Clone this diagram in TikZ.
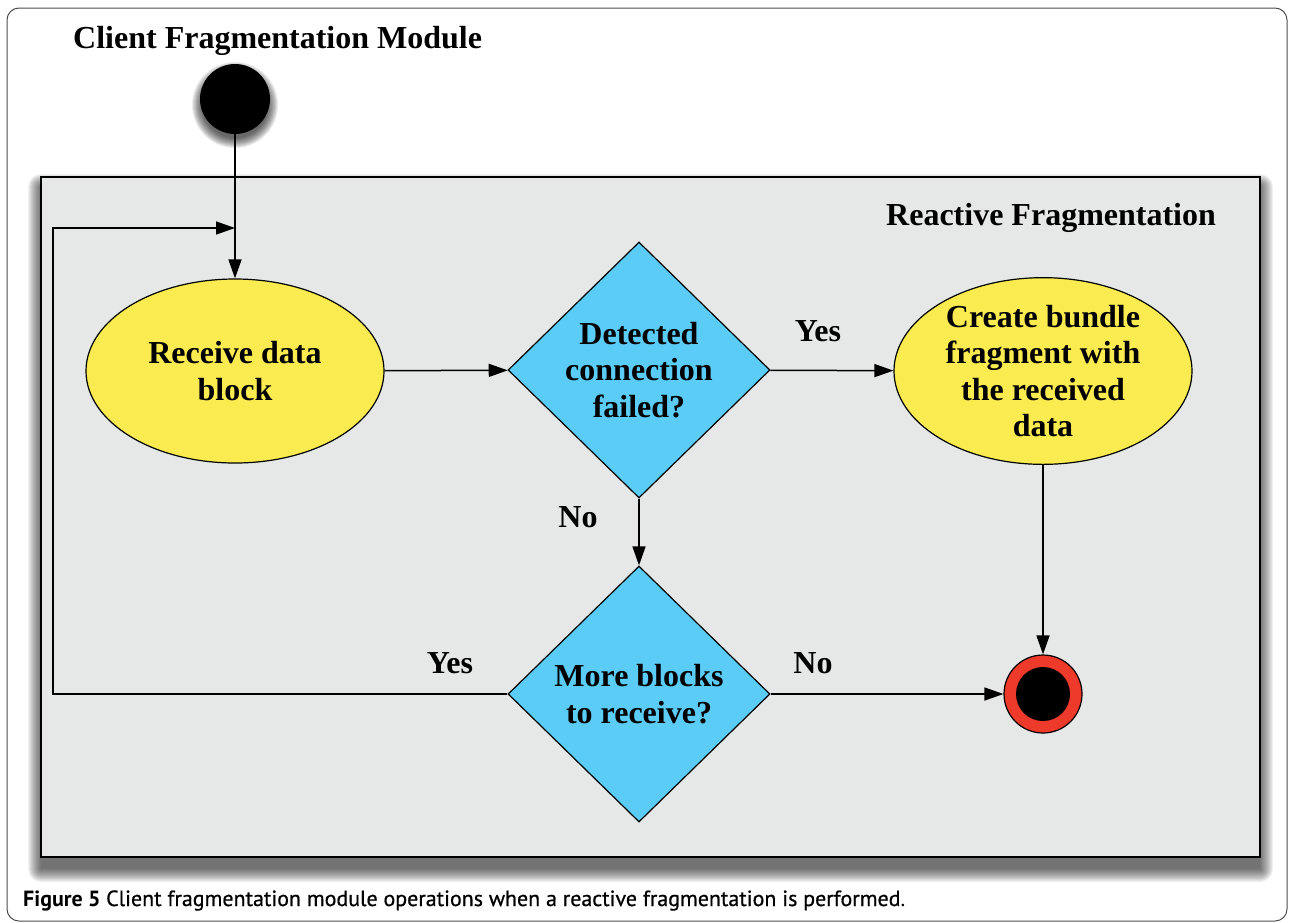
\documentclass[tikz,border=0pt]{standalone}
\usepackage{fontspec}
\setmainfont{Liberation Serif}
\newfontfamily\capfont{PT Sans}
\newfontfamily\capsemi[FakeBold=0.7]{PT Sans}
\usetikzlibrary{shapes.geometric,arrows.meta}
\definecolor{boxgray}{HTML}{E6E7E7}
\definecolor{yel}{HTML}{FAEB50}
\definecolor{sky}{HTML}{5BCCF6}
\definecolor{ringred}{HTML}{EE3A2B}
\begin{document}
\begin{tikzpicture}[x=1pt,y=-1pt,
  flow/.style={line width=1.5pt,-{Triangle[length=19pt,width=13pt]}},
  lbl/.style={font=\fontsize{32}{36.5}\selectfont\bfseries},
  ell/.style={ellipse,draw,line width=1.2pt,fill=yel,minimum width=298pt,minimum height=184pt,inner sep=0pt,align=center,lbl},
  dia/.style={diamond,draw,line width=1.2pt,fill=sky,minimum width=262pt,minimum height=256pt,inner sep=0pt,align=center,lbl}]
\useasboundingbox (0,0) rectangle (1292,922);
% outer frame
\draw[line width=1pt,draw=black!70,rounded corners=12pt] (7,8) rectangle (1287,921);
% shadow of inner box
\foreach \i in {0,...,13}{
  \fill[black,opacity=0.055,rounded corners=\i pt] ({41-\i},{187-\i}) rectangle ({1260+\i},{869+\i});
}
\fill[boxgray] (41,177) rectangle (1260,857);
\draw[line width=1.5pt] (41,177) rectangle (1260,857);
% start shadow
\foreach \i in {0,...,10}{
  \fill[black,opacity=0.08] (235,105) circle ({33+\i});
}
\node[circle,fill=black,minimum size=70pt,inner sep=0pt] (start) at (235,99) {};
% titles
\node[lbl,anchor=base west,inner sep=0pt] (title) at (73,48) {Client Fragmentation Module};
\node[lbl,anchor=base west,inner sep=0pt] (rtitle) at (886,225) {Reactive Fragmentation};
% nodes
\node[ell] (recv) at (235,371) {Receive data\\block};
\node[dia] (det) at (639,370) {Detected\\connection\\failed?};
\node[ell] (create) at (1043,371) {Create bundle\\fragment with\\the received\\data};
\node[dia] (more) at (639,694) {More blocks\\to receive?};
\node[circle,draw=black,line width=1.2pt,fill=ringred,minimum size=78pt,inner sep=0pt] (end) at (1043,694) {};
\node[circle,fill=black,minimum size=54pt,inner sep=0pt] (endin) at (1043,694) {};
\coordinate (loopend) at (235,228);
\coordinate (loopcorner) at (53,228);
% connectors
\draw[flow] (start) -- (recv);
\draw[flow] (recv) -- (det);
\draw[flow] (det) -- (create);
\draw[flow] (det) -- (more);
\draw[flow] (create) -- (end);
\draw[flow] (more) -- (end);
\draw[flow] (more.west) -| (loopcorner) -- (loopend);
% labels
\node[lbl,anchor=base,inner sep=0pt] (l1) at (818,341) {Yes};
\node[lbl,anchor=base,inner sep=0pt] (l2) at (578,527) {No};
\node[lbl,anchor=base,inner sep=0pt] (l3) at (450,673) {Yes};
\node[lbl,anchor=base,inner sep=0pt] (l4) at (813,673) {No};
% caption
\node[anchor=base west,inner sep=0pt] (cap) at (23,906) {\resizebox{882pt}{!}{\fontsize{17}{20}\selectfont{\capfont\bfseries Figure 5} {\capsemi Client fragmentation module operations when a reactive fragmentation is performed}{\capfont .}}};
\end{tikzpicture}
\end{document}
